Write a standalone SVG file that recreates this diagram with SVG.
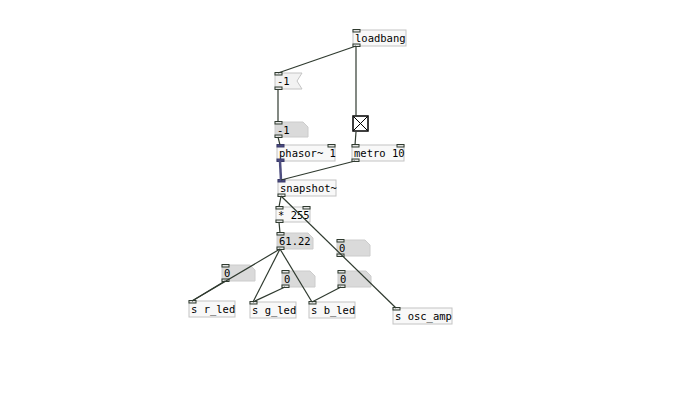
<svg xmlns="http://www.w3.org/2000/svg" width="689" height="401" viewBox="0 0 689 401">
<style>
.obj{fill:#f8f8f8;stroke:#c4c4c4;stroke-width:1}
.msg{fill:#f2f2f2;stroke:#c4c4c4;stroke-width:1}
.atom{fill:#dadada;stroke:#cccccc;stroke-width:1}
.io{fill:#e4e4e4;stroke:#2f3a2f;stroke-width:1}
.sio{fill:#4a4a80;stroke:#3a3a6a;stroke-width:1}
.t{font-family:"DejaVu Sans Mono",monospace;font-size:10.5px;fill:#000}
.c{stroke:#2f3a2f;stroke-width:1.2;fill:none}
.s{stroke:#4e4e80;stroke-width:2.5;fill:none}
</style>
<rect width="689" height="401" fill="#fff"/>
<g id="loadbang">
<rect class="obj" x="353" y="30" width="53" height="16"/>
<text class="t" x="355" y="42">loadbang</text>
<rect class="io" x="353" y="29.5" width="7" height="2.5"/>
<rect class="io" x="353" y="44" width="7" height="2.5"/>
</g>
<g id="msg_m1">
<polygon class="msg" points="275,73 302,73 297,81 302,89 275,89"/>
<text class="t" x="277" y="85">-1</text>
<rect class="io" x="275" y="72.5" width="7" height="2.5"/>
<rect class="io" x="275" y="87" width="7" height="2.5"/>
</g>
<g id="atom_m1">
<polygon class="atom" points="275,122 303,122 308,127 308,137 275,137"/>
<text class="t" x="277" y="134">-1</text>
<rect class="io" x="275" y="121.5" width="7" height="2.5"/>
<rect class="io" x="275" y="135" width="7" height="2.5"/>
</g>
<g id="toggle">
<rect x="353" y="116" width="15" height="15" fill="#fff" stroke="#000" stroke-width="1.5"/>
<line x1="354" y1="117" x2="367" y2="130" stroke="#000" stroke-width="1"/>
<line x1="367" y1="117" x2="354" y2="130" stroke="#000" stroke-width="1"/>
</g>
<g id="phasor">
<rect class="obj" x="277" y="145" width="58" height="16"/>
<text class="t" x="279" y="157">phasor~ 1</text>
<rect class="sio" x="277" y="144.5" width="7" height="2.5"/>
<rect class="io" x="328" y="144.5" width="7" height="2.5"/>
<rect class="sio" x="277" y="159" width="7" height="2.5"/>
</g>
<g id="metro">
<rect class="obj" x="352" y="145" width="52" height="16"/>
<text class="t" x="354" y="157">metro 10</text>
<rect class="io" x="352" y="144.5" width="7" height="2.5"/>
<rect class="io" x="397" y="144.5" width="7" height="2.5"/>
<rect class="io" x="352" y="159" width="7" height="2.5"/>
</g>
<g id="snapshot">
<rect class="obj" x="278" y="180" width="58" height="16"/>
<text class="t" x="280" y="192">snapshot~</text>
<rect class="sio" x="278" y="179.5" width="7" height="2.5"/>
<rect class="io" x="278" y="194" width="7" height="2.5"/>
</g>
<g id="mul255">
<rect class="obj" x="276" y="207" width="34" height="15"/>
<text class="t" x="278" y="219">* 255</text>
<rect class="io" x="276" y="206.5" width="7" height="2.5"/>
<rect class="io" x="303" y="206.5" width="7" height="2.5"/>
<rect class="io" x="276" y="220" width="7" height="2.5"/>
</g>
<g id="atom_val">
<polygon class="atom" points="277,233 308,233 313,238 313,249 277,249"/>
<text class="t" x="279" y="245">61.22</text>
<rect class="io" x="277" y="232.5" width="7" height="2.5"/>
<rect class="io" x="277" y="247" width="7" height="2.5"/>
</g>
<g id="atom_a">
<polygon class="atom" points="222,265 250,265 255,270 255,281 222,281"/>
<text class="t" x="224" y="277">0</text>
<rect class="io" x="222" y="264.5" width="7" height="2.5"/>
<rect class="io" x="222" y="279" width="7" height="2.5"/>
</g>
<g id="atom_b">
<polygon class="atom" points="282,271 310,271 315,276 315,287 282,287"/>
<text class="t" x="284" y="283">0</text>
<rect class="io" x="282" y="270.5" width="7" height="2.5"/>
<rect class="io" x="282" y="285" width="7" height="2.5"/>
</g>
<g id="atom_c">
<polygon class="atom" points="337,240 365,240 370,245 370,256 337,256"/>
<text class="t" x="339" y="252">0</text>
<rect class="io" x="337" y="239.5" width="7" height="2.5"/>
<rect class="io" x="337" y="254" width="7" height="2.5"/>
</g>
<g id="atom_d">
<polygon class="atom" points="338,271 366,271 371,276 371,287 338,287"/>
<text class="t" x="340" y="283">0</text>
<rect class="io" x="338" y="270.5" width="7" height="2.5"/>
<rect class="io" x="338" y="285" width="7" height="2.5"/>
</g>
<g id="s_r_led">
<rect class="obj" x="189" y="301" width="46" height="16"/>
<text class="t" x="191" y="313">s r_led</text>
<rect class="io" x="189" y="300.5" width="7" height="2.5"/>
</g>
<g id="s_g_led">
<rect class="obj" x="250" y="302" width="46" height="16"/>
<text class="t" x="252" y="314">s g_led</text>
<rect class="io" x="250" y="301.5" width="7" height="2.5"/>
</g>
<g id="s_b_led">
<rect class="obj" x="309" y="302" width="46" height="16"/>
<text class="t" x="311" y="314">s b_led</text>
<rect class="io" x="309" y="301.5" width="7" height="2.5"/>
</g>
<g id="s_osc_amp">
<rect class="obj" x="393" y="308" width="59" height="16"/>
<text class="t" x="395" y="320">s osc_amp</text>
<rect class="io" x="393" y="307.5" width="7" height="2.5"/>
</g>
<g id="connectors">
<line class="c" x1="356" y1="46" x2="278" y2="73"/>
<line class="c" x1="356" y1="46" x2="356" y2="116"/>
<line class="c" x1="278" y1="89" x2="278" y2="122"/>
<line class="c" x1="278" y1="137" x2="280" y2="145"/>
<line class="c" x1="356" y1="132" x2="355" y2="145"/>
<line class="s" x1="280" y1="161" x2="281" y2="180"/>
<line class="c" x1="355" y1="161" x2="281" y2="180"/>
<line class="c" x1="281" y1="196" x2="279" y2="207"/>
<line class="c" x1="281" y1="196" x2="396" y2="308"/>
<line class="c" x1="279" y1="222" x2="280" y2="233"/>
<line class="c" x1="280" y1="249" x2="192" y2="301"/>
<line class="c" x1="280" y1="249" x2="253" y2="302"/>
<line class="c" x1="280" y1="249" x2="312" y2="302"/>
<line class="c" x1="225" y1="281" x2="192" y2="301"/>
<line class="c" x1="285" y1="287" x2="253" y2="302"/>
<line class="c" x1="341" y1="287" x2="312" y2="302"/>
</g>
</svg>
